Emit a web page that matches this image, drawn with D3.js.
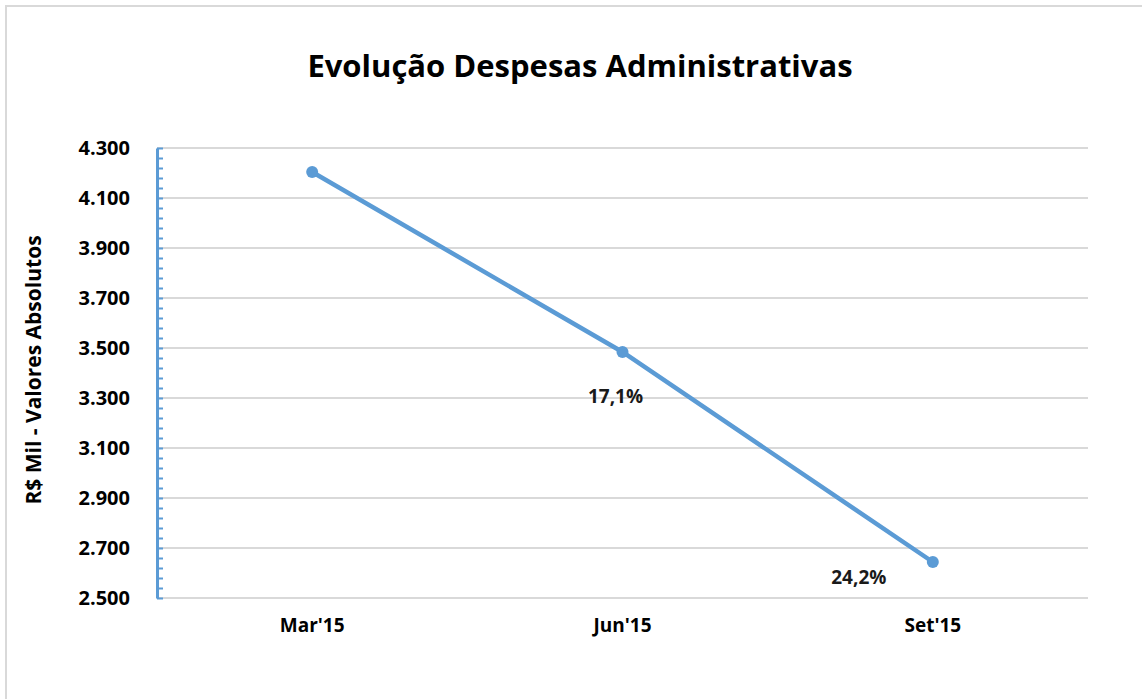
<!DOCTYPE html>
<html>
<head>
<meta charset="utf-8">
<script src="https://cdn.jsdelivr.net/npm/d3@7"></script>
<style>
  body { margin: 0; background: #fff; }
  svg { display: block; }
  svg text { font-family: "Open Sans", "Liberation Sans", sans-serif; }
</style>
</head>
<body>
<svg id="chart" width="1142" height="699"></svg>
<script>
// chart data
const categories = ["Mar'15", "Jun'15", "Set'15"];
const values = [4204, 3484, 2644];
const pctLabels = ["", "17,1%", "24,2%"];
const yTicks = [2500, 2700, 2900, 3100, 3300, 3500, 3700, 3900, 4100, 4300];

const svg = d3.select('#chart');
const margin = {top: 148, right: 54, bottom: 101, left: 157};
const width = 1142 - margin.left - margin.right;
const height = 699 - margin.top - margin.bottom;

// outer frame
svg.append('rect')
    .attr('x', 6).attr('y', 6)
    .attr('width', 1142).attr('height', 720)
    .attr('fill', 'none')
    .attr('stroke', '#d9d9d9')
    .attr('stroke-width', 2);

const g = svg.append('g').attr('transform', `translate(${margin.left},${margin.top})`);

const x = d3.scaleBand().domain(categories).range([0, width]);
const y = d3.scaleLinear().domain([2500, 4300]).range([height, 0]);

// gridlines
g.selectAll('.grid')
    .data(yTicks)
    .enter().append('line')
    .attr('x1', 0).attr('x2', width)
    .attr('y1', d => y(d)).attr('y2', d => y(d))
    .attr('stroke', '#d9d9d9')
    .attr('stroke-width', 2);

// minor ticks on y axis
const minor = d3.range(2500, 4300.1, 40);
g.append('g')
    .call(d3.axisRight(y).tickValues(minor).tickSize(6).tickFormat(''))
    .call(a => a.select('.domain').remove())
    .selectAll('line').attr('stroke', '#5b9bd5').attr('stroke-width', 2);

// y axis line + labels
const yAxis = g.append('g')
    .call(d3.axisLeft(y).tickValues(yTicks).tickSize(0).tickPadding(27)
        .tickFormat(d => d3.format(',')(d).replace(',', '.')));
yAxis.select('.domain').attr('stroke', '#5b9bd5').attr('stroke-width', 3);
yAxis.selectAll('text')
    .style('font-size', '20px').style('font-weight', 'bold').style('fill', '#000');

// x labels
const xAxis = g.append('g')
    .attr('transform', `translate(0,${height})`)
    .call(d3.axisBottom(x).tickSize(0).tickPadding(21));
xAxis.select('.domain').remove();
xAxis.selectAll('text')
    .style('font-size', '19px').style('font-weight', 'bold').style('fill', '#000');

// line
const pts = categories.map((c, i) => ({c, v: values[i], p: pctLabels[i]}));
const line = d3.line().x(d => x(d.c) + x.bandwidth() / 2).y(d => y(d.v));
g.append('path')
    .datum(pts)
    .attr('d', line)
    .attr('fill', 'none')
    .attr('stroke', '#5b9bd5')
    .attr('stroke-width', 4.5);

g.selectAll('.dot')
    .data(pts)
    .enter().append('circle')
    .attr('cx', d => x(d.c) + x.bandwidth() / 2)
    .attr('cy', d => y(d.v))
    .attr('r', 6)
    .attr('fill', '#5b9bd5');

// percentage labels
g.selectAll('.pct')
    .data(pts.filter(d => d.p))
    .enter().append('text')
    .attr('x', (d, i) => x(d.c) + x.bandwidth() / 2 + (i === 0 ? -7 : -74))
    .attr('y', (d, i) => y(d.v) + (i === 0 ? 51 : 22))
    .attr('text-anchor', 'middle')
    .style('font-size', '19px').style('font-weight', 'bold').style('fill', '#1a1a1a')
    .text(d => d.p);

// title
svg.append('text')
    .attr('x', 580).attr('y', 77)
    .attr('text-anchor', 'middle')
    .style('font-size', '31px').style('font-weight', 'bold').style('fill', '#000')
    .text('Evolução Despesas Administrativas');

// y label
svg.append('text')
    .attr('transform', 'translate(41,370) rotate(-90)')
    .attr('text-anchor', 'middle')
    .style('font-size', '21px').style('font-weight', 'bold').style('fill', '#000')
    .text('R$ Mil - Valores Absolutos');
</script>
</body>
</html>
